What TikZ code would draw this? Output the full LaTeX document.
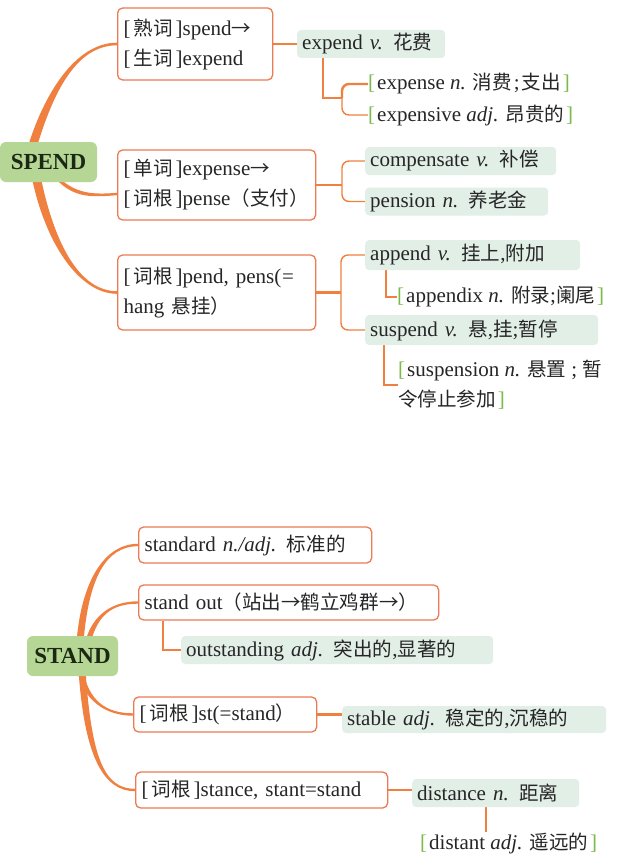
\documentclass[tikz,border=0pt]{standalone}
\usepackage{fontspec}
\setmainfont{Liberation Serif}
\newfontfamily\cjk[Scale=0.93]{Noto Sans CJK SC}
\usetikzlibrary{calc}
\definecolor{org}{RGB}{239,128,64}
\definecolor{bord}{RGB}{236,122,84}
\definecolor{rootfill}{RGB}{182,214,150}
\definecolor{leaffill}{RGB}{226,239,231}
\definecolor{brk}{RGB}{122,186,72}
\definecolor{txt}{RGB}{38,38,38}
\definecolor{rtxt}{RGB}{28,40,20}
\pgfdeclarelayer{bg}
\pgfsetlayers{bg,main}
\newcommand\zh[1]{{\cjk #1}}
\newcommand\zlb{[\kern3pt}
\newcommand\zrb{\kern3pt]}
\newcommand\zgl{\textcolor{brk}{[}\kern2pt}
\newcommand\zgr{\kern2pt\textcolor{brk}{]}}
\newcommand\ztaper[6]{\fill[org] ($#1+#5$) .. controls ($#2+#5$) and ($#3+#6$) .. ($#4+#6$) -- ($#4-#6$) .. controls ($#3-#6$) and ($#2-#5$) .. ($#1-#5$) -- cycle;}
\begin{document}
\begin{tikzpicture}[x=1pt,y=-1pt,font=\fontsize{21}{30}\selectfont,
  box/.style={draw=bord,line width=1.3pt,rounded corners=5pt,fill=white,anchor=west,inner xsep=6pt,inner ysep=0pt,align=left,text=txt},
  leaf/.style={fill=leaffill,rounded corners=4pt,anchor=west,inner xsep=5pt,inner ysep=0pt,align=left,text=txt,minimum height=28pt},
  bare/.style={anchor=west,inner sep=0pt,align=left,text=txt},
  root/.style={fill=rootfill,rounded corners=6pt,font=\fontsize{23}{28}\selectfont\bfseries,text=rtxt,inner sep=0pt},
  trunk/.style={draw=org,line width=2.4pt},
  twig/.style={draw=org,line width=1.4pt}]
\useasboundingbox (0,0) rectangle (640,867);
% ---------------- SPEND ----------------
\node[root,minimum width=97pt,minimum height=40pt] (spend) at (48.5,162) {SPEND};
\node[box,text width=143pt,minimum height=72pt] (b1) at (117,44) {\zlb\zh{熟词}\zrb spend\zh{→}\\\zlb\zh{生词}\zrb expend};
\node[box,text width=186pt,minimum height=70pt] (b2) at (117,185) {\zlb\zh{单词}\zrb expense\zh{→}\\\zlb\zh{词根}\zrb pense\zh{（支付）}};
\node[box,text width=186pt,minimum height=75pt] (b3) at (117,292.5) {\zlb\zh{词根}\zrb pend, pens(\kern1pt=\\hang \zh{悬挂）}};
\node[leaf,text width=138pt] (l1) at (297,44) {expend \textit{v.} \zh{花费}};
\node[bare] (l2) at (368,84) {\zgl expense \textit{n.} \zh{消费}\kern2pt;\kern2pt\zh{支出}\zgr};
\node[bare] (l3) at (368,115) {\zgl expensive \textit{adj.} \zh{昂贵的}\zgr};
\node[leaf,text width=181pt] (l4) at (365,161) {compensate \textit{v.} \zh{补偿}};
\node[leaf,text width=173pt] (l5) at (365,201.5) {pension \textit{n.} \zh{养老金}};
\node[leaf,text width=205pt,minimum height=30pt] (l6) at (365,255) {append \textit{v.} \zh{挂上},\zh{附加}};
\node[leaf,text width=223pt,minimum height=30pt] (l7) at (365,330) {suspend \textit{v.} \zh{悬},\zh{挂};\zh{暂停}};
\node[bare] (l8) at (397,297) {\zgl appendix \textit{n.} \zh{附录};\zh{阑尾}\zgr};
\node[bare] (l9) at (398,385) {\zgl suspension \textit{n.} \zh{悬置}\kern5pt;\kern5pt\zh{暂}\\\zh{令停止参加}\zgr};
% ---------------- STAND ----------------
\node[root,minimum width=91pt,minimum height=40pt] (stand) at (72.5,656) {STAND};
\node[box,text width=221pt,minimum height=36pt] (s1) at (138,545) {standard \textit{n./adj.} \zh{标准的}};
\node[box,text width=288pt,minimum height=35pt] (s2) at (138,602.5) {stand out\zh{（站出→鹤立鸡群→）}};
\node[leaf,text width=302pt] (s3) at (181,650) {outstanding \textit{adj.} \zh{突出的},\zh{显著的}};
\node[box,text width=171pt,minimum height=35pt] (s4) at (133,714.5) {\zlb\zh{词根}\zrb st(=stand\zh{）}};
\node[leaf,text width=254pt,minimum height=27pt] (s5) at (342,719.5) {stable \textit{adj.} \zh{稳定的},\zh{沉稳的}};
\node[box,text width=240pt,minimum height=36pt] (s6) at (135,790) {\zlb\zh{词根}\zrb stance, stant=stand};
\node[leaf,text width=157pt] (s7) at (412,793) {distance \textit{n.} \zh{距离}};
\node[bare] (s8) at (420,843) {\zgl distant \textit{adj.} \zh{遥远的}\zgr};
% ---------------- connectors ----------------
\begin{pgfonlayer}{bg}
\fill[white] (0,0) rectangle (640,867);
\coordinate (a1) at (32,148);
\ztaper{(a1)}{(48,95)}{(75,44)}{(b1.west)}{(-4.5,0)}{(0,-1.3)}
\coordinate (a2) at (57,178);
\coordinate (e2) at ($(b2.west)+(0,9)$);
\ztaper{(a2)}{(75,196)}{(92,196)}{(e2)}{(0,-2.2)}{(0,-1.2)}
\coordinate (a3) at (36,176);
\ztaper{(a3)}{(50,245)}{(80,292.5)}{(b3.west)}{(-4.5,0)}{(0,1.3)}
\draw[trunk] (b1.east) -- (l1.west);
\coordinate (j1) at (342,98);
\draw[trunk] ($(l1.south west)+(26,0)$) |- (j1);
\draw[trunk,rounded corners=7pt] (j1) |- (l2.west);
\draw[twig,rounded corners=7pt] (j1) |- (l3.west);
\coordinate (j2) at (342,185);
\draw[trunk] (b2.east) -- (j2);
\draw[twig,rounded corners=7pt] (j2) |- (l4.west);
\draw[twig,rounded corners=7pt] (j2) |- (l5.west);
\coordinate (j3) at (341,292.5);
\draw[trunk] (b3.east) -- (j3);
\draw[twig,rounded corners=7pt] (j3) |- (l6.west);
\draw[twig,rounded corners=7pt] (j3) |- (l7.west);
\draw[trunk] ($(l6.south west)+(21,0)$) |- (l8.west);
\draw[twig,line width=1.8pt] ($(l7.south west)+(19,0)$) |- (l9.west);
% STAND
\coordinate (c1) at (80,642);
\ztaper{(c1)}{(85,580)}{(105,545)}{(s1.west)}{(-3.5,0)}{(0,-1.2)}
\coordinate (c2) at (88,642);
\ztaper{(c2)}{(95,615)}{(112,602.5)}{(s2.west)}{(-2.8,0)}{(0,-1.2)}
\coordinate (c3) at (80,670);
\ztaper{(c3)}{(86,700)}{(105,714.5)}{(s4.west)}{(-2.8,0)}{(0,1.2)}
\coordinate (c4) at (82,670);
\ztaper{(c4)}{(88,760)}{(105,790)}{(s6.west)}{(-3.5,0)}{(0,1.2)}
\draw[trunk] ($(s2.south west)+(25,0)$) |- (s3.west);
\draw[trunk] (s4.east) -- (s4.east -| s5.west);
\draw[trunk] (s6.east) -- (s6.east -| s7.west);
\coordinate (d1) at ($(s7.south west)+(74,0)$);
\draw[trunk] (d1) -- (d1 |- s8.north);
\end{pgfonlayer}
\end{tikzpicture}
\end{document}
